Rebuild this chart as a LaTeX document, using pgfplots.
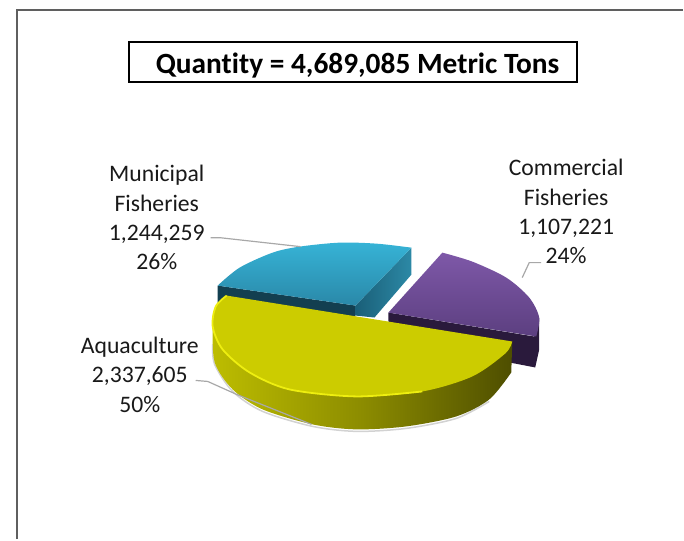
\documentclass[border=0pt]{standalone}
\usepackage{fontspec}
\setmainfont{Carlito}[Ligatures=NoCommon]
\usepackage{pgfplots}
\pgfplotsset{compat=1.18}

\definecolor{framegray}{HTML}{5F5F5F}
\definecolor{leader}{HTML}{A8A8A8}
\definecolor{blueside}{HTML}{133F50}
\definecolor{purpleside}{HTML}{2A1A3C}
\definecolor{yellowtop}{HTML}{CCCC00}
\definecolor{yellowrim}{HTML}{EEEE10}
\definecolor{bluelo}{HTML}{2A88A8}
\definecolor{bluehi}{HTML}{36B3D6}
\definecolor{facelo}{HTML}{1A5F78}
\definecolor{facehi}{HTML}{2C89A6}
\definecolor{purplelo}{HTML}{5C3F80}
\definecolor{purplehi}{HTML}{7E58A8}
\definecolor{sidea}{HTML}{BDBD00}
\definecolor{sideb}{HTML}{8C8C00}
\definecolor{sidec}{HTML}{4E4E00}

\pgfdeclareverticalshading{bluetop}{100bp}{
  color(0bp)=(bluelo); color(25bp)=(bluelo);
  color(75bp)=(bluehi); color(100bp)=(bluehi)}
\pgfdeclarehorizontalshading{blueface}{100bp}{
  color(0bp)=(facelo); color(25bp)=(facelo);
  color(75bp)=(facehi); color(100bp)=(facehi)}
\pgfdeclareverticalshading{purpletop}{100bp}{
  color(0bp)=(purplelo); color(25bp)=(purplelo);
  color(75bp)=(purplehi); color(100bp)=(purplehi)}
\pgfdeclarehorizontalshading{yellowside}{100bp}{
  color(0bp)=(sidea); color(25bp)=(sidea);
  color(50bp)=(sideb); color(75bp)=(sidec); color(100bp)=(sidec)}

\begin{document}
\begin{tikzpicture}
  \begin{axis}[
      scale only axis,
      width=684pt, height=540pt,
      xmin=0, xmax=684, ymin=0, ymax=540,
      y dir=reverse,
      hide axis,
      clip=false,
    ]
    % keeps the page as large as the axis
    \addplot[draw=none] coordinates {(0,0) (684,540)};
    % outer frame, only top and left show
    \addplot[framegray, line width=2pt] coordinates {(17,540) (17,10) (684,10)};
    % title box
    \addplot[black, line width=1.5pt, fill=white] coordinates {(129,42) (578,42) (578,82) (129,82)} -- cycle;

    % municipal fisheries
    \addplot[draw=none, fill=blueside] coordinates {(218,286) (356,306) (356,322) (218,312)} -- cycle;
    \addplot[draw=none, shading=blueface] coordinates {(412,248) (412,275) (375,318) (356,316) (356,306)} -- cycle;
    \addplot[draw=none, shading=bluetop, smooth] coordinates {
        (218,286) (240,268) (273,253) (300,247) (340,243) (377,244) (412,248)
      } -- (axis cs:356,306) -- cycle;

    % commercial fisheries
    \addplot[draw=none, fill=purpleside] coordinates {
        (389,313) (389,322) (505,362) (536,368) (540,350) (540,318) (535,337)
      } -- cycle;
    \addplot[draw=none, shading=purpletop, smooth] coordinates {
        (443,253) (473,262) (507,278) (530,298) (540,318) (537,337)
      } -- (axis cs:389,313) -- cycle;

    % shadow under the big slice
    \addplot[gray!35, line width=1.5pt, smooth] coordinates {
        (213,345) (215,365) (233,392) (263,412) (313,427) (357,432) (407,429) (457,419) (490,402)
      };

    % aquaculture
    \addplot[draw=none, shading=yellowside, smooth] coordinates {
        (213,327) (215,363) (233,390) (263,410) (313,425) (357,430) (407,427) (457,417) (490,400) (512,373)
      } -- (axis cs:513,342) -- (axis cs:357,397) -- cycle;
    \addplot[draw=none, fill=yellowtop, smooth] coordinates {
        (513,342) (506,354) (473,377) (423,392) (357,397) (290,390) (250,373) (223,350) (213,327) (216,307) (227,296)
      } -- cycle;
    \addplot[yellowrim, line width=1.8pt, smooth] coordinates {
        (423,392) (357,397) (290,390) (250,373) (223,350) (213,327) (216,307) (227,296)
      };

    % leader lines
    \addplot[leader, line width=1.2pt] coordinates {(211,238) (220,238) (301,247)};
    \addplot[leader, line width=1.2pt] coordinates {(196,381) (208,382) (237,395) (312,425)};
    \addplot[leader, line width=1.2pt] coordinates {(542,263) (530,263) (523,278)};

    \node[font=\fontsize{29.4}{29}\selectfont\bfseries, anchor=center] at (axis cs:358,66) {Quantity = 4,689,085 Metric Tons};
    \node[font=\fontsize{23.7}{29.5}\selectfont, align=center, text=black!90] at (axis cs:157,218) {Municipal\\Fisheries\\1,244,259\\26\%};
    \node[font=\fontsize{23.7}{29.5}\selectfont, align=center, text=black!90] at (axis cs:140,375) {Aquaculture\\2,337,605\\50\%};
    \node[font=\fontsize{23.7}{29.5}\selectfont, align=center, text=black!90] at (axis cs:567,212) {Commercial\\Fisheries\\1,107,221\\24\%};
  \end{axis}
\end{tikzpicture}
\end{document}
